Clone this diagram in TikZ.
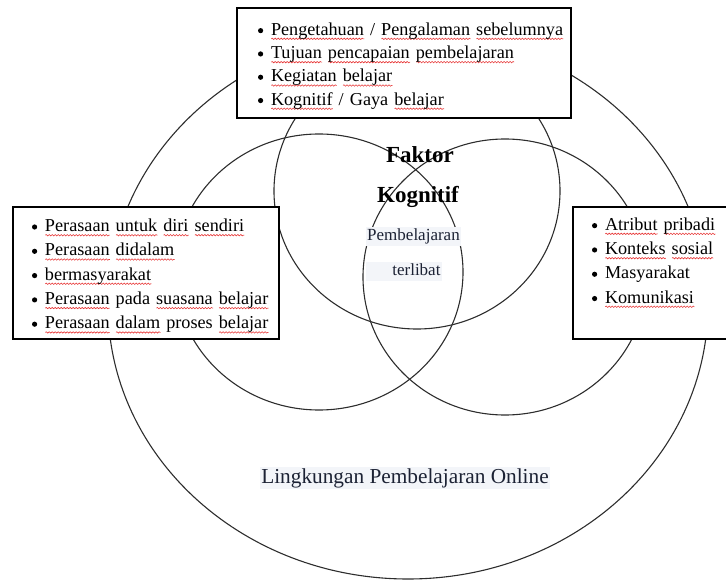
\documentclass[tikz,border=0pt]{standalone}
\usepackage{fontspec}
\setmainfont{Liberation Serif}
\usetikzlibrary{decorations.pathmorphing}

\definecolor{spell}{RGB}{232,58,58}
\definecolor{ringline}{RGB}{45,45,45}
\definecolor{shade}{RGB}{243,245,249}
\definecolor{ink}{RGB}{28,34,52}

% red spelling wave under a word
\newsavebox\wordbox
\newlength\wordwd
\newcommand\wavy[1]{\sbox\wordbox{#1}\setlength\wordwd{\wd\wordbox}%
  \rlap{\tikz[baseline=0pt]\draw[spell,line width=.6pt,decorate,
    decoration={snake,amplitude=.7pt,segment length=3pt}]
    (0pt,-3.6pt) -- (\wordwd,-3.6pt);}\usebox\wordbox}
% one bullet line of a list
\newcommand\itm[1]{\mbox{\makebox[13pt][l]{\tikz[baseline=0pt]\fill (0pt,4.6pt) circle (2.6pt);}#1}}
% extra room above the first line of a list
\newcommand\topgap{\rule{0pt}{19pt}}

\begin{document}
\begin{tikzpicture}[x=1pt,y=-1pt,
  ring/.style={draw=ringline,line width=1.1pt},
  listbox/.style={draw,line width=1.2pt,fill=white,align=left,inner ysep=0pt},
  heading/.style={font=\fontsize{23}{26}\selectfont\bfseries},
  tagged/.style={fill=shade,text=ink,inner xsep=1.5pt,inner ysep=1.5pt,
    text height=12pt,text depth=4pt,font=\fontsize{17}{20}\selectfont}]
  \useasboundingbox (0,0) rectangle (726,580);

  % centres of the environment and of the three factors
  \coordinate (online) at (408,305);
  \coordinate (kognitif) at (417,191);
  \coordinate (afektif) at (319,272);
  \coordinate (sosial) at (505,277);

  % draw the rings
  \draw [ring] (online) ellipse [x radius=300pt,y radius=274pt];
  \foreach \ring/\rx in {kognitif/143,afektif/144,sosial/142}
    \draw [ring] (\ring) ellipse [x radius=\rx pt,y radius=138pt];

  % the three lists, drawn over the rings
  \node [listbox,minimum height=110pt,text width=292pt,inner xsep=21pt,
         font=\fontsize{18.2}{23.3}\selectfont] (kogbox) at (404,63)
    {\topgap\itm{\wavy{Pengetahuan} / \wavy{Pengalaman} \wavy{sebelumnya}}\\
     \itm{\wavy{Tujuan} \wavy{pencapaian} \wavy{pembelajaran}}\\
     \itm{\wavy{Kegiatan} \wavy{belajar}}\\
     \itm{\wavy{Kognitif} / Gaya \wavy{belajar}}};
  \node [listbox,minimum height=132pt,text width=228pt,inner xsep=19pt,
         font=\fontsize{18.2}{24.3}\selectfont] (afebox) at (146,273)
    {\topgap\itm{\wavy{Perasaan} \wavy{untuk} \wavy{diri} \wavy{sendiri}}\\
     \itm{\wavy{Perasaan} \wavy{didalam}}\\
     \itm{\wavy{bermasyarakat}}\\
     \itm{\wavy{Perasaan} pada \wavy{suasana} \wavy{belajar}}\\
     \itm{\wavy{Perasaan} \wavy{dalam} proses \wavy{belajar}}};
  \node [listbox,minimum height=132pt,text width=134pt,inner xsep=19pt,
         font=\fontsize{18.2}{24.3}\selectfont] (sosbox) at (659,273)
    {\topgap\itm{\wavy{Atribut} \wavy{pribadi}}\\
     \itm{\wavy{Konteks} \wavy{sosial}}\\
     \itm{Masyarakat}\\
     \itm{\wavy{Komunikasi}}\\
     \strut};

  % labels in the middle
  \node [heading] (faktor) at (420,155) {Faktor};
  \node [heading] (kogtitle) at (418,197) {Kognitif};
  \node [tagged] (pemb) at (413.5,237) {Pembelajaran};
  \node [tagged,text width=73pt,align=right] (terlibat) at (404,271.5) {terlibat};
  \node [tagged,font=\fontsize{21.3}{24}\selectfont,text height=15pt,
         text depth=5pt,inner ysep=1pt] (envlabel) at (405,478)
    {Lingkungan Pembelajaran Online};
\end{tikzpicture}
\end{document}
